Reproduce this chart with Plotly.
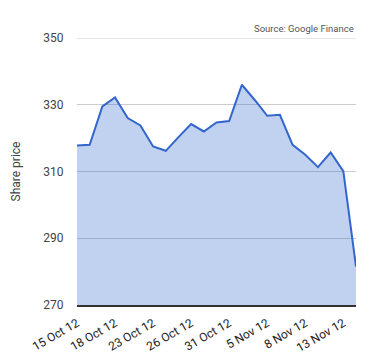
import plotly.graph_objects as go

dates = ["15 Oct 12", "16 Oct 12", "17 Oct 12", "18 Oct 12", "19 Oct 12", "22 Oct 12",
         "23 Oct 12", "24 Oct 12", "25 Oct 12", "26 Oct 12", "29 Oct 12", "30 Oct 12",
         "31 Oct 12", "1 Nov 12", "2 Nov 12", "5 Nov 12", "6 Nov 12", "7 Nov 12",
         "8 Nov 12", "9 Nov 12", "12 Nov 12", "13 Nov 12", "14 Nov 12"]
prices = [317.8, 318.0, 329.5, 332.2, 326.0, 323.8, 317.5, 316.2, 320.3, 324.2, 322.0,
          324.7, 325.1, 336.0, 331.5, 326.7, 327.0, 318.0, 315.0, 311.3, 315.7, 310.1, 281.5]
tick_labels = dates[::3]
y_ticks = [270, 290, 310, 330, 350]

fig = go.Figure()
fig.add_trace(go.Scatter(
    x=dates, y=prices, mode="lines", fill="tozeroy",
    line=dict(color="#3366CC", width=2),
    fillcolor="rgba(51,102,204,0.3)",
    hoverinfo="skip",
))

fig.update_layout(
    width=380, height=360,
    margin=dict(l=77, r=24, t=38, b=55),
    plot_bgcolor="white", paper_bgcolor="white",
    showlegend=False,
    font=dict(family="Roboto, Arial, sans-serif", color="#444444", size=12),
    xaxis=dict(
        type="category", range=[0, len(dates) - 1], automargin=False,
        tickmode="array", tickvals=tick_labels, ticktext=tick_labels,
        tickangle=-30, showgrid=False, showline=True, linecolor="#333333", linewidth=1.5,
        ticks="outside", ticklen=5, tickcolor="rgba(0,0,0,0)",
        tickfont=dict(size=12, color="#222222"),
    ),
    yaxis=dict(
        range=[270, 350], tickvals=y_ticks, showgrid=True, gridcolor="#CCCCCC",
        gridwidth=1, zeroline=False, showline=False, automargin=False,
        ticks="outside", ticklen=10, tickcolor="rgba(0,0,0,0)",
        tickfont=dict(size=12, color="#444444"),
        title=dict(text="Share price", font=dict(size=12, color="#444444"), standoff=20),
    ),
    shapes=[dict(
        type="line", xref="paper", yref="y", x0=0, x1=1, y0=y_ticks[-1], y1=y_ticks[-1],
        line=dict(color="#CCCCCC", width=1), layer="below",
    )],
    annotations=[dict(
        text="Source: Google Finance", xref="paper", yref="paper",
        x=1, y=1, xanchor="right", yanchor="bottom", yshift=2, showarrow=False,
        font=dict(size=9.5, color="#555555"),
    )],
)

fig.write_html("out.html")
